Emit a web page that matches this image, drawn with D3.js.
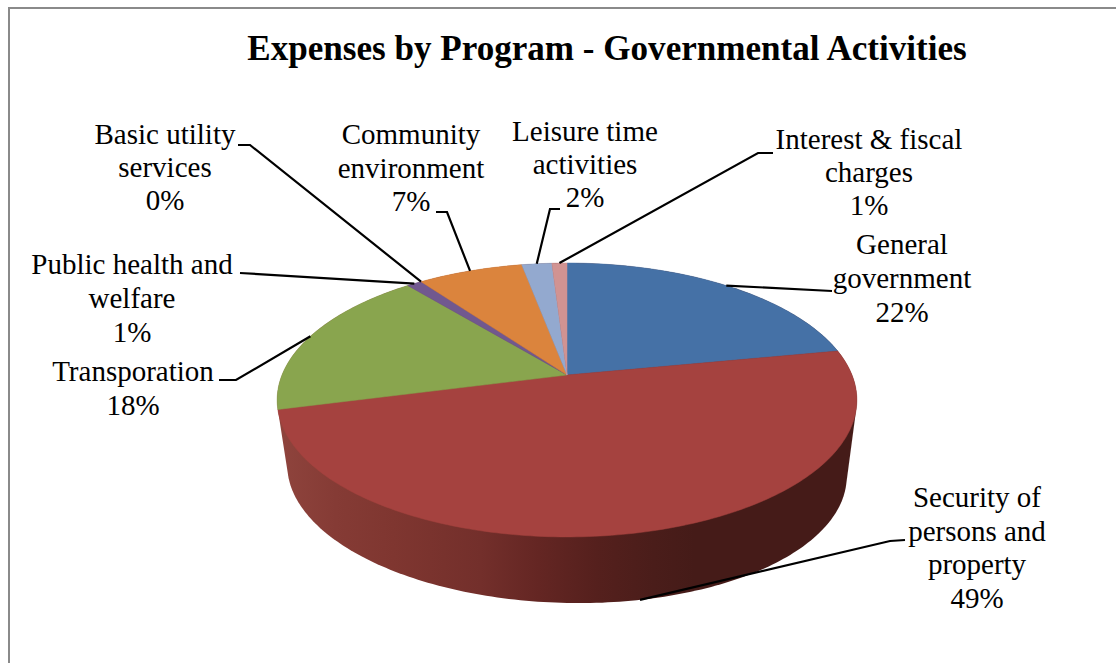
<!DOCTYPE html>
<html>
<head>
<meta charset="utf-8">
<script src="https://cdn.jsdelivr.net/npm/d3@7"></script>
<style>
  html, body { margin: 0; padding: 0; background: #fff; overflow: hidden; }
  svg { display: block; }
  text { font-family: "Liberation Serif", serif; fill: #000; }
</style>
</head>
<body>
<svg id="chart" width="1116" height="663"></svg>
<script>
// Chart content
const chartTitle = "Expenses by Program - Governmental Activities";
const programs = [
  "General government", "Security of persons and property", "Transporation",
  "Public health and welfare", "Basic utility services", "Community environment",
  "Leisure time activities", "Interest & fiscal charges"
];
const shares = [22, 49, 18, 1, 0, 7, 2, 1];
const sliceColors = ["#4571a6", "#a5423f", "#89a54e", "#71588f", "#4198af", "#db843d", "#93a9cf", "#d19392"];

// Wrapped label text for each program
const labelLines = [
  ["General", "government"],
  ["Security of", "persons and", "property"],
  ["Transporation"],
  ["Public health and", "welfare"],
  ["Basic utility", "services"],
  ["Community", "environment"],
  ["Leisure time", "activities"],
  ["Interest & fiscal", "charges"]
];

// Label layout: centre x, first-line centre y, line pitch
const labelLayout = [
  { x: 902, y: 245, pitch: 34 },
  { x: 977, y: 498, pitch: 33.6 },
  { x: 133, y: 372, pitch: 34 },
  { x: 132, y: 265, pitch: 34 },
  { x: 165, y: 135, pitch: 33 },
  { x: 411, y: 135, pitch: 33.5 },
  { x: 585, y: 132, pitch: 33 },
  { x: 869, y: 140, pitch: 33 }
];

// Leader elbows, running outward from the slice towards its label
const leaderElbows = [
  [[832, 291]],
  [[890, 541], [905, 540]],
  [[236, 380], [219, 380]],
  [[240, 273]],
  [[250, 145], [238, 145]],
  [[447, 212], [436, 212]],
  [[550, 209], [560, 209]],
  [[758, 153], [773, 153]]
];

// Side wall shading from the left of the drum to the right
const wallStops = [
  [0, "#8f443d"], [0.1, "#853b35"], [0.2, "#7f3630"], [0.35, "#732f2b"],
  [0.45, "#642623"], [0.55, "#55201d"], [0.65, "#4a1d1a"], [0.72, "#451b18"], [1, "#451b18"]
];

// Perspective disc: near edge is larger than the far edge
const disc = { cx: 567, cy: 375, rx: 285, ry: 132.4, k: 0.1824 };
const base = { cy: 446.7, scale: 0.965, skew: 0.02 };

function rimPoint(angle, cy = disc.cy, scale = 1, skew = 0) {
  const u = Math.sin(angle), v = -Math.cos(angle), w = 1 - disc.k * v;
  const dx = scale * disc.rx * u / w;
  return [disc.cx + dx, cy + scale * disc.ry * v / w + skew * dx];
}
const topRim = a => rimPoint(a);
const baseRim = a => rimPoint(a, base.cy, base.scale, base.skew);

const svg = d3.select("#chart");
const line = d3.line();
const fullTurn = d3.range(0, 361).map(d => d * Math.PI / 180);

// Chart frame, running past the right and bottom of the page
svg.append("rect")
  .attr("x", 9).attr("y", 8).attr("width", 1300).attr("height", 900)
  .attr("fill", "#fff").attr("stroke", "#8a8a8a").attr("stroke-width", 2);

svg.append("text")
  .attr("x", 607).attr("y", 60)
  .attr("text-anchor", "middle")
  .attr("font-size", 35.1).attr("font-weight", "bold")
  .text(chartTitle);

// Side wall: hull of both rims, shaded across its width
const gradient = svg.append("defs").append("linearGradient")
  .attr("id", "wall").attr("gradientUnits", "userSpaceOnUse")
  .attr("x1", 278).attr("x2", 857).attr("y1", 0).attr("y2", 0);
gradient.selectAll("stop").data(wallStops).join("stop")
  .attr("offset", d => d[0]).attr("stop-color", d => d[1]);

const hull = d3.polygonHull(fullTurn.map(topRim).concat(fullTurn.map(baseRim)));
svg.append("path")
  .attr("d", line(hull) + "Z")
  .attr("fill", "url(#wall)");

// Top face slices
const arcs = d3.pie().sort(null).value(d => d)(shares);
const slicePath = d => {
  const steps = Math.max(2, Math.ceil((d.endAngle - d.startAngle) * 60));
  const pts = d3.range(steps + 1).map(i =>
    topRim(d.startAngle + (d.endAngle - d.startAngle) * i / steps));
  return line([[disc.cx, disc.cy], ...pts]) + "Z";
};
svg.append("g").selectAll("path")
  .data(arcs.filter(d => d.value > 0))
  .join("path")
  .attr("d", slicePath)
  .attr("fill", d => sliceColors[d.index])
  .attr("stroke", d => sliceColors[d.index])
  .attr("stroke-width", 0.5);

// Leader lines start from each slice's mid-angle; the security slice
// is reached on the lower rim of the wall
const frontIndex = 1;
const leaderPoints = arcs.map(d => {
  const mid = (d.startAngle + d.endAngle) / 2;
  const anchor = d.index === frontIndex ? baseRim(mid) : topRim(mid);
  return [anchor, ...leaderElbows[d.index]];
});
svg.append("g").selectAll("path")
  .data(leaderPoints)
  .join("path")
  .attr("d", line)
  .attr("fill", "none")
  .attr("stroke", "#000")
  .attr("stroke-width", 2.2);

// Data labels: wrapped program name followed by its share
const labels = svg.append("g").selectAll("text")
  .data(programs)
  .join("text")
  .attr("text-anchor", "middle")
  .attr("font-size", 29);
labels.each(function (name, i) {
  const place = labelLayout[i];
  const rows = labelLines[i].concat(shares[i] + "%");
  d3.select(this).selectAll("tspan").data(rows).join("tspan")
    .attr("x", place.x)
    .attr("y", (r, j) => place.y + j * place.pitch + 9)
    .text(r => r);
});
</script>
</body>
</html>
